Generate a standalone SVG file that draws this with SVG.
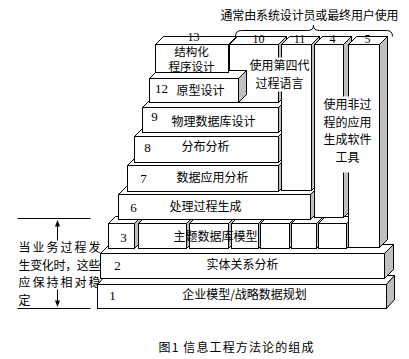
<svg xmlns="http://www.w3.org/2000/svg" width="409" height="359" viewBox="0 0 409 359">
<defs>
<style>
.f{fill:#fff;stroke:#000;stroke-width:1}
.s{fill:#c0c0c0;stroke:#000;stroke-width:1}
.bg{fill:#fff;stroke:none}
.t{font-family:"Noto Sans CJK SC","Noto Sans CJK JP",sans-serif;font-size:12px;fill:#000;text-anchor:middle}
.ta{font-family:"Noto Sans CJK SC","Noto Sans CJK JP",sans-serif;font-size:12px;fill:#000}
.n{font-family:"Liberation Serif",serif;font-size:13px;fill:#000;text-anchor:middle}
.ln{fill:none;stroke:#000;stroke-width:1}
</style>
</defs>
<rect width="409" height="359" fill="#fff"/>
<g transform="translate(0.5,0.5)">
<g id="annotation">
<text class="ta" x="18" y="251.5" textLength="82" lengthAdjust="spacing">当业务过程发</text>
<text class="ta" x="18" y="269" textLength="82" lengthAdjust="spacing">生变化时，这些</text>
<text class="ta" x="18" y="286.5" textLength="82" lengthAdjust="spacing">应保持相对稳</text>
<text class="ta" x="18" y="304">定</text>
</g>
<g id="connectors">
<line class="ln" x1="17" y1="218" x2="90" y2="218"/>
<line class="ln" x1="17" y1="308" x2="90" y2="308"/>
<line class="ln" x1="57" y1="224" x2="57" y2="240"/>
<line class="ln" x1="57" y1="289" x2="57" y2="302"/>
<polygon points="57,219.5 54.5,226 59.5,226" fill="#000"/>
<polygon points="57,306.5 54.5,300 59.5,300" fill="#000"/>
<path class="ln" d="M235,36 Q235,30 241,30 L307,30 Q313,30 313,25 Q313,30 319,30 L386,30 Q392,30 392,36"/>
</g>
<g id="b1">
<polygon class="f" points="97,284 105,275 394,275 386,284"/>
<polygon class="s" points="386,284 394,275 394,299 386,308"/>
<rect class="f" x="97" y="284" width="289" height="24"/>
<text class="n" x="112" y="299">1</text>
<text class="t" x="244" y="298.5">企业模型/战略数据规划</text>
</g>
<g id="b2">
<polygon class="f" points="100,253 109,244 393,244 384,253"/>
<polygon class="s" points="384,253 393,244 393,269 384,278"/>
<rect class="f" x="100" y="253" width="284" height="25"/>
<text class="n" x="117" y="269">2</text>
<text class="t" x="242" y="268.5">实体关系分析</text>
</g>
<g id="b3">
<polygon class="f" points="108,223 115,216 141,216 134,223"/>
<polygon class="s" points="134,223 141,216 141,241 134,248"/>
<rect class="f" x="108" y="223" width="26" height="25"/>
<text class="n" x="123" y="241">3</text>
</g>
<g id="b3-cells">
<polygon class="f" points="138,223 145,216 193,216 186,223"/>
<polygon class="s" points="186,223 193,216 193,241 186,248"/>
<rect class="f" x="138" y="223" width="48" height="25"/>
<polygon class="f" points="189,223 196,216 235,216 228,223"/>
<polygon class="s" points="228,223 235,216 235,241 228,248"/>
<rect class="f" x="189" y="223" width="39" height="25"/>
<polygon class="f" points="231,223 238,216 265,216 258,223"/>
<polygon class="s" points="258,223 265,216 265,241 258,248"/>
<rect class="f" x="231" y="223" width="27" height="25"/>
<polygon class="f" points="260,223 267,216 296,216 289,223"/>
<polygon class="s" points="289,223 296,216 296,241 289,248"/>
<rect class="f" x="260" y="223" width="29" height="25"/>
<polygon class="f" points="291,223 298,216 323,216 316,223"/>
<polygon class="s" points="316,223 323,216 323,241 316,248"/>
<rect class="f" x="291" y="223" width="25" height="25"/>
<polygon class="f" points="318,223 325,216 353,216 346,223"/>
<polygon class="s" points="346,223 353,216 353,241 346,248"/>
<rect class="f" x="318" y="223" width="28" height="25"/>
<text class="t" x="215" y="240.5">主题数据库模型</text>
</g>
<g id="b6">
<polygon class="f" points="118,194 126,186 318,186 310,194"/>
<polygon class="s" points="310,194 318,186 318,211 310,219"/>
<rect class="f" x="118" y="194" width="192" height="25"/>
<text class="n" x="133" y="211">6</text>
<text class="t" x="205" y="210.5">处理过程生成</text>
</g>
<g id="b7">
<polygon class="f" points="127,165 135,157 286,157 278,165"/>
<polygon class="s" points="278,165 286,157 286,183 278,191"/>
<rect class="f" x="127" y="165" width="151" height="26"/>
<text class="n" x="143" y="182">7</text>
<text class="t" x="212" y="181.5">数据应用分析</text>
</g>
<g id="b8">
<polygon class="f" points="134,136 142,128 286,128 278,136"/>
<polygon class="s" points="278,136 286,128 286,154 278,162"/>
<rect class="f" x="134" y="136" width="144" height="26"/>
<text class="n" x="147" y="151">8</text>
<text class="t" x="205" y="150.5">分布分析</text>
</g>
<g id="b9">
<polygon class="f" points="142,107 150,99 286,99 278,107"/>
<polygon class="s" points="278,107 286,99 286,124 278,132"/>
<rect class="f" x="142" y="107" width="136" height="25"/>
<text class="n" x="154" y="120">9</text>
<text class="t" x="213" y="125.5">物理数据库设计</text>
</g>
<g id="c10">
<polygon class="f" points="229,44 237,36 286,36 278,44"/>
<polygon class="s" points="278,44 286,36 286,94 278,102"/>
<rect class="f" x="229" y="44" width="49" height="58"/>
<text class="n" x="258" y="42" style="font-size:12px">10</text>
</g>
<g id="b12">
<polygon class="f" points="149,78 157,70 246,70 238,78"/>
<polygon class="s" points="238,78 246,70 246,94 238,102"/>
<rect class="f" x="149" y="78" width="89" height="24"/>
<text class="n" x="161" y="92">12</text>
<text class="t" x="200" y="94.5">原型设计</text>
</g>
<g id="b13">
<polygon class="f" points="155,44 163,36 236,36 228,44"/>
<rect class="f" x="155" y="44" width="73" height="28"/>
<text class="n" x="193" y="40" style="font-size:12px">13</text>
<text class="t" x="191" y="55" style="font-size:11.5px">结构化</text>
<text class="t" x="191" y="70.5" style="font-size:11.5px">程序设计</text>
</g>
<g id="c11">
<polygon class="f" points="281,44 289,36 319,36 311,44"/>
<polygon class="s" points="311,44 319,36 319,182 311,190"/>
<rect class="f" x="281" y="44" width="30" height="146"/>
<text class="n" x="299" y="42" style="font-size:12px">11</text>
</g>
<g id="c4">
<polygon class="f" points="314,44 322,36 351,36 343,44"/>
<polygon class="s" points="343,44 351,36 351,209 343,217"/>
<rect class="f" x="314" y="44" width="29" height="173"/>
<text class="n" x="332" y="42" style="font-size:12px">4</text>
</g>
<g id="c5">
<polygon class="f" points="348,44 356,36 387,36 379,44"/>
<polygon class="s" points="379,44 387,36 387,239 379,247"/>
<rect class="f" x="348" y="44" width="31" height="203"/>
<text class="n" x="367" y="42" style="font-size:12px">5</text>
</g>
<g id="label-10-11">
<rect class="bg" x="249" y="57" width="60" height="34"/>
<text class="t" x="279" y="69.5">使用第四代</text>
<text class="t" x="279" y="87">过程语言</text>
</g>
<g id="label-4-5">
<rect class="bg" x="321" y="96" width="52" height="76"/>
<text class="t" x="347" y="108.5">使用非过</text>
<text class="t" x="347" y="126">程的应用</text>
<text class="t" x="347" y="143.5">生成软件</text>
<text class="t" x="347" y="161">工具</text>
</g>
<g id="title">
<text class="ta" x="220" y="19.5" textLength="178" lengthAdjust="spacing">通常由系统设计员或最终用户使用</text>
</g>
<g id="caption">
<text class="ta" x="158" y="351.5" textLength="155" lengthAdjust="spacing">图1 信息工程方法论的组成</text>
</g>
</g>
</svg>
